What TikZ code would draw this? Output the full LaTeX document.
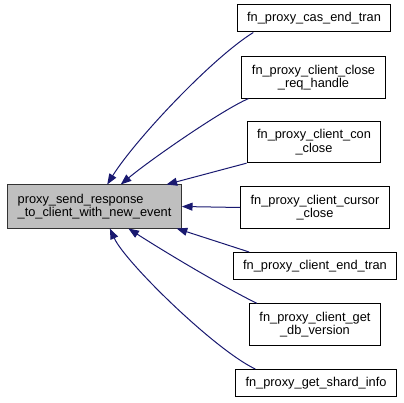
\documentclass[tikz,border=0pt]{standalone}
\usepackage{fontspec}
\setmainfont{Liberation Sans}
\usepackage{xcolor}
\usetikzlibrary{arrows.meta}
\definecolor{callEdge}{HTML}{191970}
\definecolor{callGray}{HTML}{BFBFBF}

\begin{document}
\begin{tikzpicture}[
  x=0.75pt,
  y=-0.75pt,
  fnbox/.style={draw=black, fill=white, line width=0.75pt, align=center, inner xsep=7.5pt, inner ysep=2pt,
    minimum height=20.25pt, font=\fontsize{9.6}{10}\selectfont},
  fnboxtwo/.style={fnbox, minimum height=31pt},
  mainbox/.style={fnbox, fill=callGray, draw=black!80, align=left, minimum height=32.25pt},
  callarrow/.style={-{Triangle[length=8pt,width=6pt]}, line width=0.75pt, draw=callEdge}
]
\useasboundingbox (0,0) rectangle (404,403);

\node[mainbox] (main) at (94.5,206.5) {proxy\_send\_response\\\_to\_client\_with\_new\_event};

\node[fnbox] (casend) at (314,18.5) {fn\_proxy\_cas\_end\_tran};
\node[fnboxtwo] (closereq) at (313.5,77.5) {fn\_proxy\_client\_close\\\_req\_handle};
\node[fnboxtwo] (conclose) at (314,142) {fn\_proxy\_client\_con\\\_close};
\node[fnboxtwo] (cursorclose) at (315,207.5) {fn\_proxy\_client\_cursor\\\_close};
\node[fnbox] (endtran) at (315,266) {fn\_proxy\_client\_end\_tran};
\node[fnboxtwo] (dbversion) at (315,324.5) {fn\_proxy\_client\_get\\\_db\_version};
\node[fnbox] (shardinfo) at (316,383) {fn\_proxy\_get\_shard\_info};

\draw[callarrow] (casend.193) .. controls (212,58) and (135,140) .. (main.60);
\draw[callarrow] (closereq.198) .. controls (222,110) and (150,160) .. (main.40);
\draw[callarrow] (conclose.south west) -- (main.17);
\draw[callarrow] (cursorclose.west) -- (main.east);
\draw[callarrow] (endtran.168) -- (main.345);
\draw[callarrow] (dbversion.160) .. controls (220,285) and (165,252) .. (main.327);
\draw[callarrow] (shardinfo.167) .. controls (215,350) and (125,262) .. (main.305);
\end{tikzpicture}
\end{document}
